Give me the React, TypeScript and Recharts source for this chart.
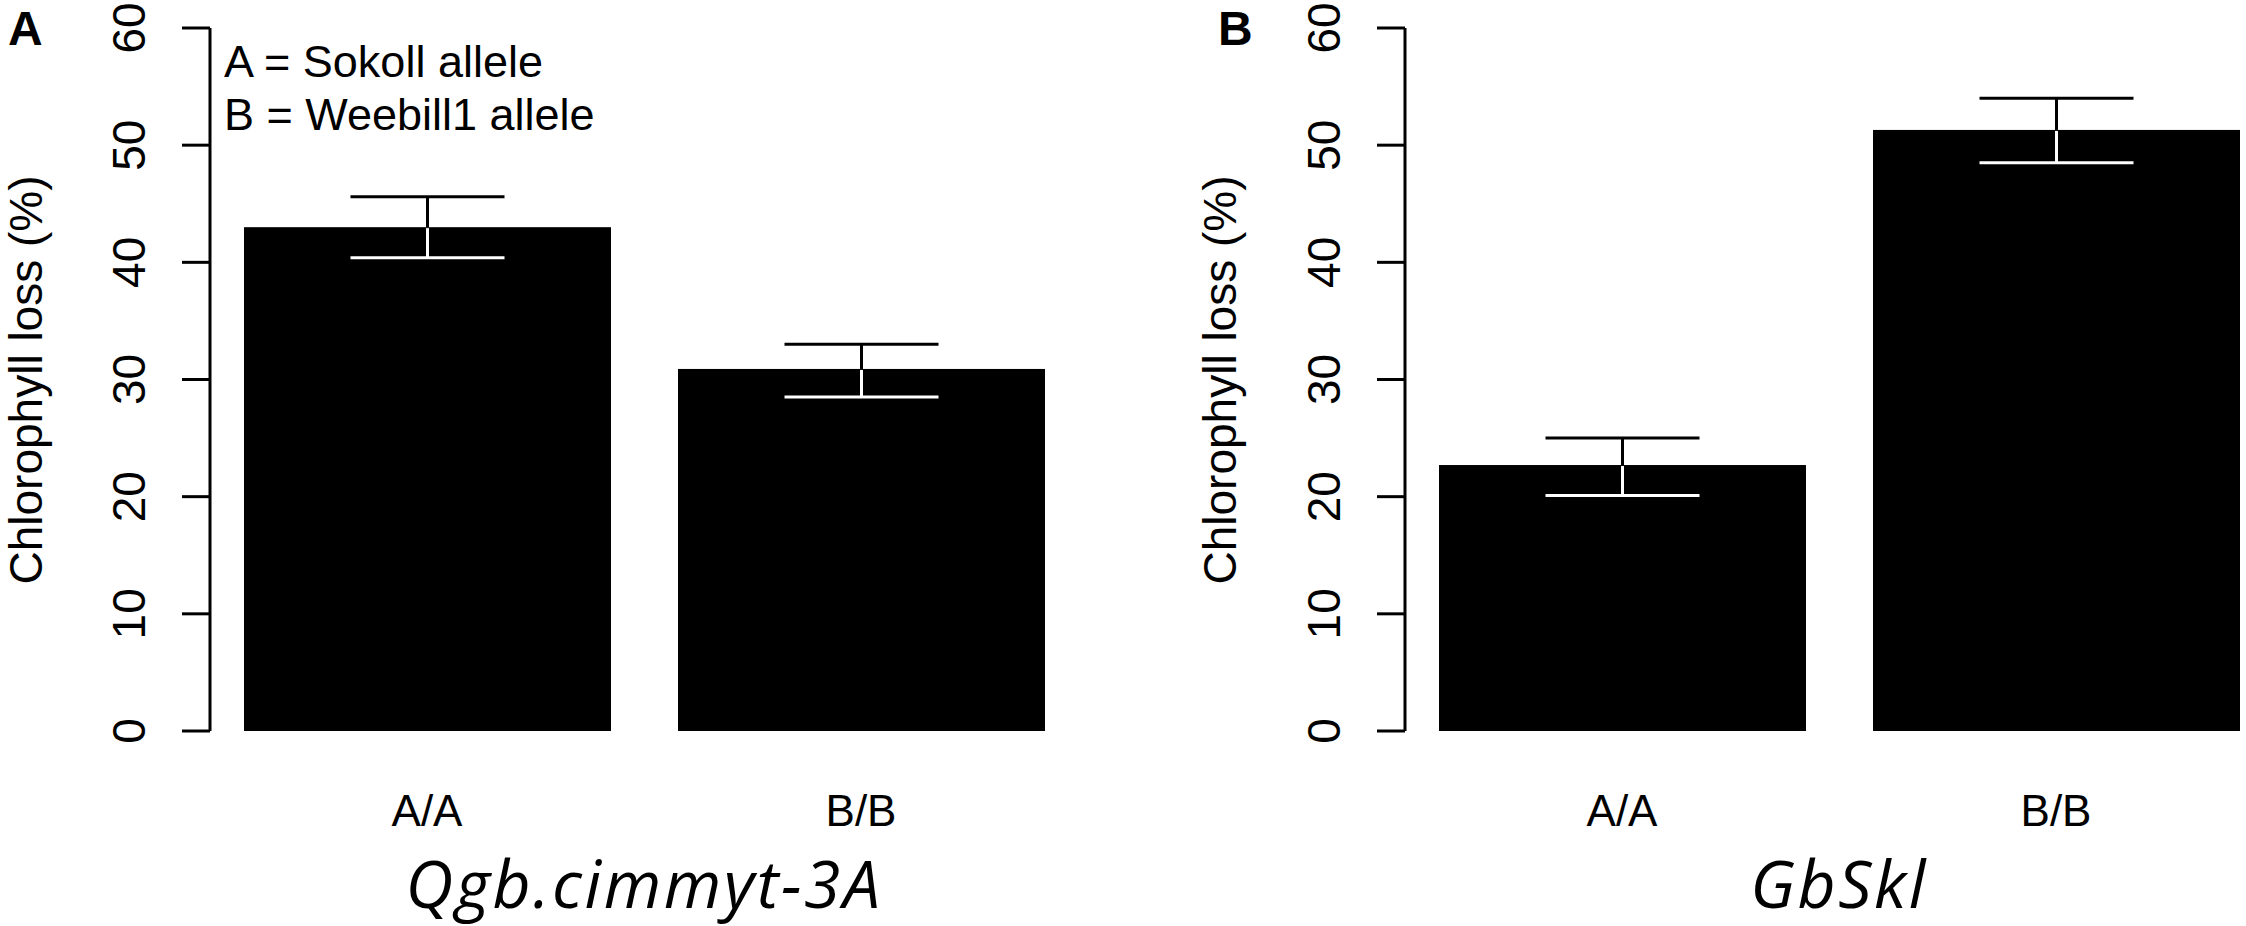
import React from "react";
import { BarChart, Bar, XAxis, YAxis } from "recharts";

const genotypes = ["A/A", "B/B"];
const yTicks = [0, 10, 20, 30, 40, 50, 60];

// Qgb.cimmyt-3A panel
const qgbMean = [43.0, 30.9];
const qgbUpper = [45.6, 33.0];
const qgbLower = [40.4, 28.5];

// GbSkl panel
const gbsklMean = [22.7, 51.3];
const gbsklUpper = [25.0, 54.0];
const gbsklLower = [20.1, 48.5];

const FONT = "'Liberation Sans', Arial, sans-serif";

function buildRows(mean: number[], upper: number[], lower: number[]) {
  return genotypes.map((g, i) => ({
    genotype: g,
    mean: mean[i],
    upper: upper[i],
    lower: lower[i],
  }));
}

// bar with the error bar drawn on top: black above the bar, white inside it
const BarWithError = (props: any) => {
  const { x, y, width, height, payload } = props;
  const perUnit = height / payload.mean;
  const cx = x + width / 2;
  const yHi = y - (payload.upper - payload.mean) * perUnit;
  const yLo = y + (payload.mean - payload.lower) * perUnit;
  const cap = 77;
  return (
    <g>
      <rect x={x} y={y} width={width} height={height} fill="#000" />
      <line x1={cx} x2={cx} y1={y} y2={yHi} stroke="#000" strokeWidth={3} />
      <line x1={cx - cap} x2={cx + cap} y1={yHi} y2={yHi} stroke="#000" strokeWidth={3} />
      <line x1={cx} x2={cx} y1={y + 1} y2={yLo} stroke="#fff" strokeWidth={3} />
      <line x1={cx - cap} x2={cx + cap} y1={yLo} y2={yLo} stroke="#fff" strokeWidth={3} />
    </g>
  );
};

const YTick = ({ x, y, payload }: any) => (
  <text
    transform={`translate(${x - 37},${y}) rotate(-90)`}
    textAnchor="middle"
    fontSize={46}
    fontFamily={FONT}
    fill="#000"
  >
    {payload.value}
  </text>
);

const XTick = ({ x, y, payload }: any) => (
  <text x={x} y={y + 95} textAnchor="middle" fontSize={44} fontFamily={FONT} fill="#000">
    {payload.value}
  </text>
);

function Panel({
  left,
  rows,
}: {
  left: number;
  rows: { genotype: string; mean: number; upper: number; lower: number }[];
}) {
  return (
    <div style={{ position: "absolute", left, top: 0 }}>
      <BarChart
        width={1123}
        height={926}
        data={rows}
        margin={{ top: 28, right: 45, bottom: 75, left: 0 }}
        barCategoryGap={0}
      >
        <XAxis
          dataKey="genotype"
          axisLine={false}
          tickLine={false}
          tickSize={0}
          tickMargin={0}
          height={120}
          tick={<XTick />}
        />
        <YAxis
          domain={[0, 60]}
          ticks={yTicks}
          width={210}
          tickSize={28}
          tickMargin={0}
          axisLine={{ stroke: "#000", strokeWidth: 3 }}
          tickLine={{ stroke: "#000", strokeWidth: 3 }}
          tick={<YTick />}
          interval={0}
        />
        <Bar dataKey="mean" barSize={367} shape={<BarWithError />} isAnimationActive={false} />
      </BarChart>
    </div>
  );
}

export default function App() {
  return (
    <div
      style={{
        position: "absolute",
        left: 0,
        top: 0,
        width: 2246,
        height: 926,
        overflow: "hidden",
        background: "#fff",
      }}
    >
      <Panel left={0} rows={buildRows(qgbMean, qgbUpper, qgbLower)} />
      <Panel left={1195} rows={buildRows(gbsklMean, gbsklUpper, gbsklLower)} />
      <svg
        width={2246}
        height={926}
        style={{ position: "absolute", left: 0, top: 0, pointerEvents: "none" }}
      >
        <g fontFamily={FONT} fill="#000">
          <text x={8} y={45} fontSize={48} fontWeight="bold">A</text>
          <text x={1218} y={45} fontSize={48} fontWeight="bold">B</text>
          <text x={224} y={77} fontSize={45}>A = Sokoll allele</text>
          <text x={224} y={130} fontSize={45}>B = Weebill1 allele</text>
          <text transform="translate(42,380) rotate(-90)" textAnchor="middle" fontSize={46}>
            Chlorophyll loss (%)
          </text>
          <text transform="translate(1236,380) rotate(-90)" textAnchor="middle" fontSize={46}>
            Chlorophyll loss (%)
          </text>
        </g>
        <g
          fontFamily="'Open Sans', 'Noto Sans', sans-serif"
          fontStyle="italic"
          fontSize={66}
          letterSpacing={2.5}
          fill="#000"
        >
          <text x={644} y={908} textAnchor="middle">Qgb.cimmyt-3A</text>
          <text x={1839} y={908} textAnchor="middle">GbSkl</text>
        </g>
      </svg>
    </div>
  );
}
